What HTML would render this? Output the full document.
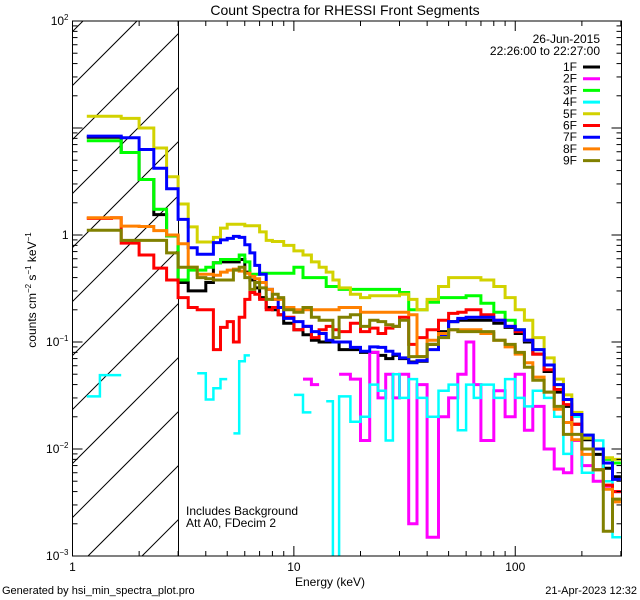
<!DOCTYPE html>
<html><head><meta charset="utf-8"><style>
html,body{margin:0;padding:0;background:#fff;width:640px;height:600px;overflow:hidden;}
svg{display:block;font-family:"Liberation Sans",sans-serif;}
</style></head><body>
<svg id="chart" width="640" height="600" viewBox="0 0 640 600">
<rect x="0" y="0" width="640" height="600" fill="#fff"/>
<text x="345" y="15" font-size="14" text-anchor="middle">Count Spectra for RHESSI Front Segments</text>
<g id="hatch"></g>
<g id="series"></g>
<g id="axes"></g>
<text x="186" y="515" font-size="12">Includes Background</text>
<text x="186" y="527" font-size="12">Att A0, FDecim 2</text>
<text x="330" y="586" font-size="12" text-anchor="middle">Energy (keV)</text>
<text transform="translate(36,290) rotate(-90)" font-size="12" text-anchor="middle">counts cm<tspan font-size="8" dy="-5">−2</tspan><tspan dy="5"> s</tspan><tspan font-size="8" dy="-5">−1</tspan><tspan dy="5"> keV</tspan><tspan font-size="8" dy="-5">−1</tspan></text>
<text x="2" y="594" font-size="11">Generated by hsi_min_spectra_plot.pro</text>
<text x="637" y="594" font-size="11" text-anchor="end">21-Apr-2023 12:32</text>
<g id="legend">
<text x="600" y="43" font-size="12" text-anchor="end">26-Jun-2015</text>
<text x="600" y="55" font-size="12" text-anchor="end">22:26:00 to 22:27:00</text>
</g>
</svg>
<script>
const edges = [1.16,1.33,1.5,1.66,1.83,2.0,2.16,2.33,2.5,2.66,2.83,3.0,3.33,3.66,4.0,4.33,4.66,5,5.33,5.66,6,6.33,6.66,7,7.5,8,8.5,9,10,11,12,13,14,15,16,18,20,22,24,26,28,30,33,36,40,45,50,55,60,65,70,80,90,100,110,120,135,150,165,180,200,225,250,275,300];
const seriesNames = ["1F","2F","3F","4F","5F","6F","7F","8F","9F"];
const seriesColors = ["#000000","#ff00ff","#00ff00","#00ffff","#d2d200","#ff0000","#0000ff","#ff8000","#808000"];
const s1F = [8.2,8.2,8.2,5.9,5.9,3.3,3.3,1.55,1.55,0.98,0.98,0.36,0.30,0.30,0.36,0.55,0.56,0.56,0.56,0.59,0.45,0.38,0.32,0.26,0.21,0.2,0.18,0.15,0.13,0.117,0.104,0.1,0.1,0.1,0.085,0.085,0.08,0.08,0.075,0.07,0.075,0.07,0.065,0.066,0.095,0.125,0.155,0.16,0.16,0.16,0.16,0.15,0.137,0.12,0.1,0.077,0.053,0.034,0.025,0.017,0.0122,0.0089,0.0066,0.0055];
const s2F = [null,null,null,null,null,null,null,null,null,null,null,null,null,null,null,null,null,null,null,null,null,null,null,null,null,null,null,null,null,0.045,0.04,null,null,null,0.05,0.045,0.012,0.08,0.03,0.05,0.03,0.05,0.002,0.04,0.0015,0.02,0.03,0.05,0.1,0.04,0.012,0.035,0.02,0.05,0.015,0.025,0.01,0.0065,0.006,0.012,0.007,0.005,0.0045,0.004];
const s3F = [7.6,7.6,7.6,5.9,5.9,3.3,3.3,1.74,1.74,0.98,0.98,0.38,0.47,0.47,0.5,0.55,0.59,0.59,0.59,0.65,0.56,0.43,0.43,0.44,0.44,0.44,0.44,0.44,0.5,0.4,0.4,0.4,0.33,0.33,0.31,0.31,0.31,0.31,0.31,0.31,0.31,0.29,0.2,0.2,0.235,0.26,0.26,0.26,0.27,0.27,0.23,0.19,0.16,0.13,0.104,0.085,0.061,0.04,0.029,0.021,0.0135,0.01,0.008,0.0074];
const s4F = [0.031,0.049,0.049,null,null,null,null,null,null,null,null,null,null,0.051,0.029,0.037,0.045,null,0.014,0.066,0.075,null,null,null,null,null,null,null,0.032,0.022,null,null,0.028,0.0009,0.031,0.018,0.02,0.04,0.035,0.012,0.05,0.03,0.045,0.03,0.02,0.035,0.04,0.015,0.04,0.03,0.04,0.03,0.045,0.03,0.025,0.035,0.03,0.02,0.009,0.02,0.006,0.012,0.005,0.0015];
const s5F = [12.9,12.9,12.9,12.3,12.3,10,10,6.5,6.5,3.5,3.5,1.95,1.19,0.86,0.86,0.95,1.16,1.26,1.26,1.26,1.22,1.22,1.22,1.07,0.89,0.87,0.87,0.8,0.71,0.65,0.56,0.5,0.45,0.38,0.32,0.28,0.26,0.27,0.27,0.27,0.27,0.28,0.25,0.2,0.25,0.33,0.4,0.4,0.4,0.4,0.38,0.33,0.26,0.2,0.16,0.11,0.071,0.045,0.032,0.022,0.0126,0.01,0.0083,0.008];
const s6F = [1.43,1.43,1.45,0.84,0.84,0.65,0.65,0.49,0.49,0.38,0.38,0.26,0.21,0.2,0.2,0.085,0.137,0.155,0.1,0.17,0.25,0.29,0.28,0.25,0.2,0.21,0.18,0.17,0.13,0.14,0.11,0.13,0.14,0.13,0.125,0.15,0.125,0.135,0.12,0.135,0.14,0.17,0.095,0.11,0.13,0.16,0.185,0.19,0.2,0.2,0.18,0.16,0.14,0.125,0.104,0.077,0.055,0.036,0.026,0.017,0.01,0.0064,0.0046,0.004];
const s7F = [8.4,8.4,8.4,8.1,8.1,6.3,6.3,4.2,4.2,2.7,2.7,1.4,0.76,0.66,0.66,0.85,0.9,0.93,0.97,0.95,0.81,0.68,0.52,0.43,0.31,0.25,0.21,0.166,0.155,0.14,0.125,0.12,0.104,0.1,0.1,0.089,0.082,0.09,0.089,0.082,0.077,0.071,0.064,0.067,0.085,0.117,0.155,0.166,0.17,0.17,0.17,0.16,0.14,0.13,0.104,0.085,0.061,0.04,0.029,0.021,0.0135,0.01,0.0074,0.0052];
const s8F = [1.45,1.45,1.45,1.21,1.21,1.2,1.2,1.1,1.1,1.0,1.0,0.83,0.5,0.43,0.43,0.42,0.45,0.47,0.48,0.46,0.44,0.41,0.39,0.36,0.31,0.25,0.25,0.21,0.2,0.2,0.2,0.2,0.2,0.2,0.21,0.21,0.19,0.19,0.19,0.19,0.19,0.19,0.18,0.073,0.104,0.12,0.13,0.13,0.13,0.13,0.12,0.104,0.09,0.077,0.064,0.047,0.034,0.0235,0.0177,0.0122,0.0089,0.0064,0.0042,0.0032];
const s9F = [1.11,1.11,1.11,0.89,0.89,0.89,0.89,0.89,0.89,0.68,0.68,0.5,0.5,0.4,0.39,0.38,0.38,0.38,0.47,0.5,0.4,0.31,0.36,0.32,0.25,0.28,0.26,0.2,0.19,0.21,0.17,0.16,0.16,0.11,0.17,0.18,0.14,0.16,0.155,0.145,0.14,0.16,0.073,0.073,0.095,0.11,0.13,0.125,0.125,0.125,0.125,0.104,0.095,0.08,0.058,0.044,0.034,0.025,0.0137,0.0137,0.01,0.0064,0.0017,0.0034];
const xTickLabels = ["1","10","100"];
const yTickExps = ["2","0","-1","-2","-3"];

const NS = "http://www.w3.org/2000/svg";
const L = 72.5, R = 621.5, T = 21, B = 556;
const XMIN = 1, XMAX = 302, YMIN = -3, YMAX = 2;
function xs(e){ return L + (Math.log10(e) - Math.log10(XMIN)) / (Math.log10(XMAX) - Math.log10(XMIN)) * (R - L); }
function ys(v){ let lv = Math.log10(v); if (lv < YMIN) lv = YMIN - 0.01; return B - (lv - YMIN) / (YMAX - YMIN) * (B - T); }
function mk(tag, attrs, parent){ const el = document.createElementNS(NS, tag); for (const k in attrs) el.setAttribute(k, attrs[k]); parent.appendChild(el); return el; }

const svg = document.getElementById('chart');
const defs = mk('defs', {}, svg);
const cp = mk('clipPath', {id:'plotclip'}, defs);
mk('rect', {x:L, y:T, width:R-L, height:B-T}, cp);

const hatch = document.getElementById('hatch');
const X3 = Math.round(xs(3)) + 0.5;
for (let c = 104; c < X3 + B; c += 54) {
  const xa = Math.max(L, c - B), xb = Math.min(X3, c - T);
  if (xb <= xa) continue;
  const ln = mk('line', {x1:xa, y1:c-xa, x2:xb, y2:c-xb, stroke:'#000', 'stroke-width':1}, hatch);
  
  
}
const bl = mk('line', {x1:X3, y1:T, x2:X3, y2:B, stroke:'#000', 'stroke-width':1}, hatch);



const allSeries = [s1F,s2F,s3F,s4F,s5F,s6F,s7F,s8F,s9F];
const sg = document.getElementById('series');
sg.setAttribute('clip-path', 'url(#plotclip)');
allSeries.forEach((vals, si) => {
  let d = '', open = false;
  for (let i = 0; i < vals.length; i++) {
    const v = vals[i];
    if (v === null || v === undefined) { open = false; continue; }
    const x0 = xs(edges[i]).toFixed(1), x1 = xs(edges[i+1]).toFixed(1), y = ys(v).toFixed(1);
    if (!open) { d += 'M' + x0 + ' ' + y; open = true; } else { d += 'L' + x0 + ' ' + y; }
    d += 'L' + x1 + ' ' + y;
  }
  const p = mk('path', {d:d, fill:'none', stroke:seriesColors[si], 'stroke-width': si === 3 ? 2.5 : 3, 'stroke-linejoin':'miter'}, sg);
  
  
});

const ax = document.getElementById('axes');
const frame = mk('rect', {x:L, y:T, width:R-L, height:B-T, fill:'none', stroke:'#000', 'stroke-width':1}, ax);


for (let dec = 0; dec <= 2; dec++) {
  for (let m = 1; m <= 9; m++) {
    const e = m * Math.pow(10, dec);
    if (e > XMAX) break;
    const x = xs(e), len = m === 1 ? 10 : 5;
    const t1 = mk('line', {x1:x, y1:B, x2:x, y2:B-len, stroke:'#000'}, ax);
    
    
    const t2 = mk('line', {x1:x, y1:T, x2:x, y2:T+len, stroke:'#000'}, ax);
    
    
  }
}
xTickLabels.forEach((lab, i) => {
  const t = mk('text', {x:xs(Math.pow(10, i)), y:B+15, 'font-size':12, 'text-anchor':'middle'}, ax);
  t.textContent = lab;
  
  
});
for (let dec = YMIN; dec < YMAX; dec++) {
  for (let m = 1; m <= 9; m++) {
    const y = ys(m * Math.pow(10, dec)), len = m === 1 ? 10 : 5;
    const t1 = mk('line', {x1:L, y1:y, x2:L+len, y2:y, stroke:'#000'}, ax);
    
    
    const t2 = mk('line', {x1:R, y1:y, x2:R-len, y2:y, stroke:'#000'}, ax);
    
    
  }
}
yTickExps.forEach((ex) => {
  const y = ys(Math.pow(10, +ex));
  const t = mk('text', {x:L-4, y:y+4, 'font-size':12, 'text-anchor':'end'}, ax);
  
  
  if (ex === "0") { t.textContent = '1'; }
  else {
    const a = document.createElementNS(NS, 'tspan'); a.textContent = '10'; t.appendChild(a);
    const b = document.createElementNS(NS, 'tspan'); b.setAttribute('font-size', '8'); b.setAttribute('dy', '-5');
    b.textContent = ex.replace('-', '−'); t.appendChild(b);
  }
});

const lg = document.getElementById('legend');
seriesNames.forEach((nm, i) => {
  const y = 67 + i * 11.7;
  const t = mk('text', {x:577, y:y+4, 'font-size':12, 'text-anchor':'end'}, lg);
  t.textContent = nm;
  
  
  const ln = mk('line', {x1:583, y1:y, x2:600, y2:y, stroke:seriesColors[i], 'stroke-width':3}, lg);
  
  
});
</script>
</body></html>
